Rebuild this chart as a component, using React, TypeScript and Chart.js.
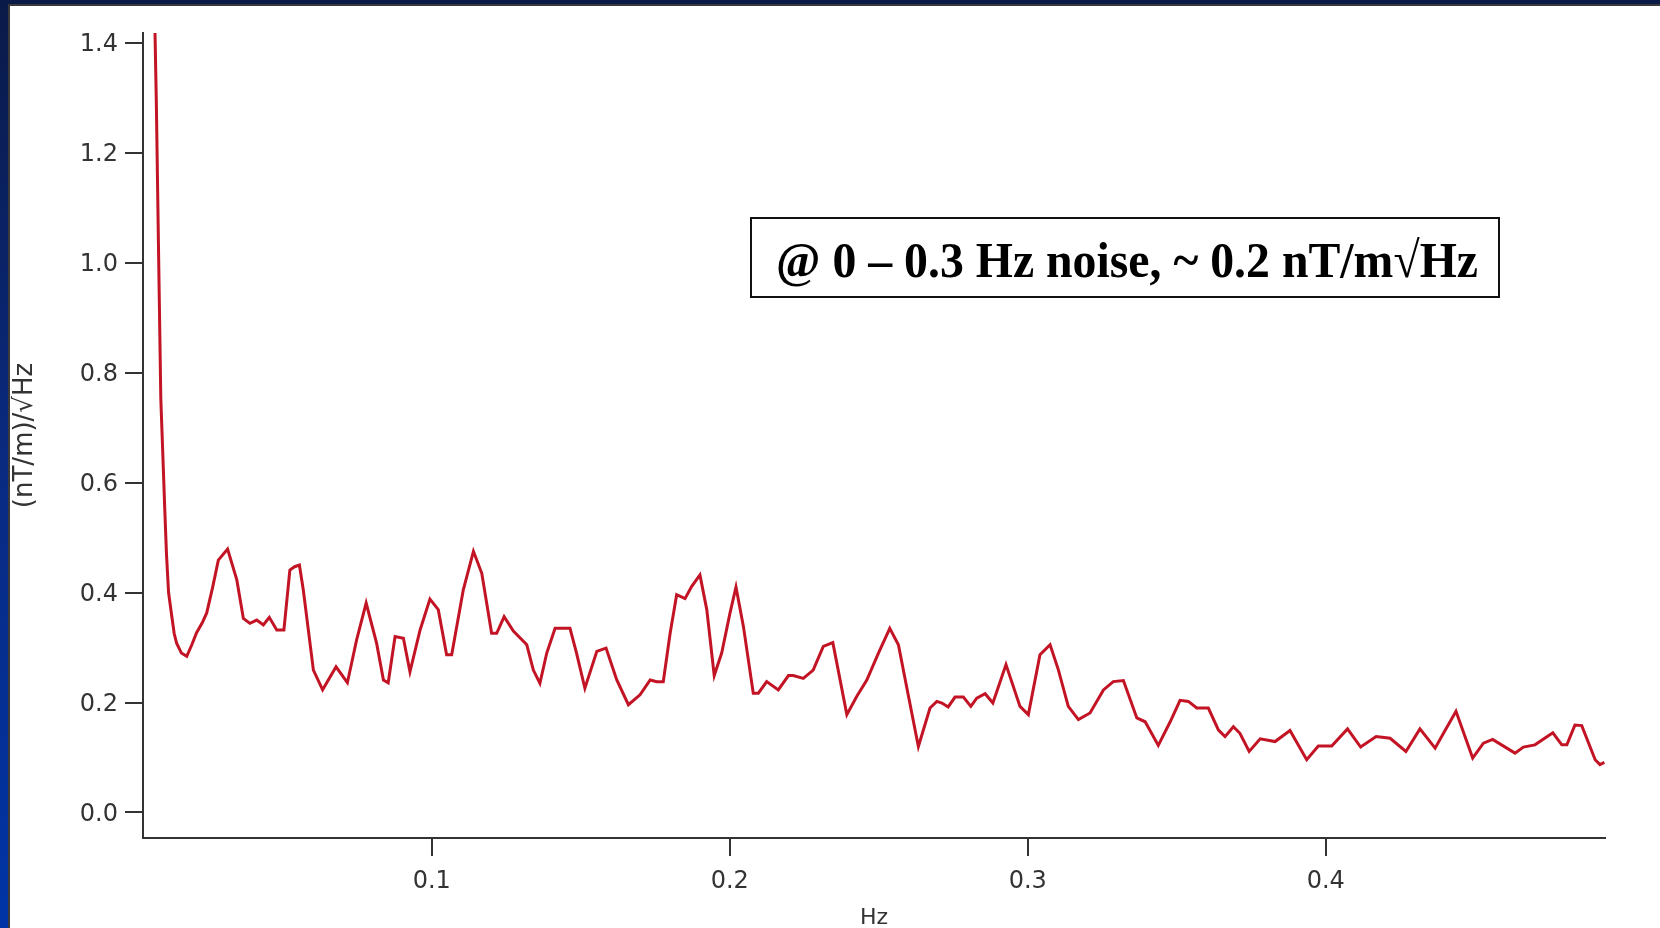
import React, { useEffect, useRef } from "react";
import { Chart, registerables } from "chart.js";

Chart.register(...registerables);

// Frequency (Hz)
const FREQ_HZ: number[] = [
  0.00715, 0.0076, 0.0083, 0.0091, 0.0099, 0.0104, 0.011, 0.0117, 0.0128, 0.0136,
  0.0144, 0.016, 0.0178, 0.0195, 0.0211, 0.023, 0.0245, 0.0265, 0.0284, 0.0315,
  0.0346, 0.0368, 0.039, 0.0413, 0.0435, 0.0455, 0.048, 0.0504, 0.0524, 0.054,
  0.0556, 0.0569, 0.0603, 0.0634, 0.0679, 0.0717, 0.0748, 0.078, 0.0815, 0.0838,
  0.0854, 0.0877, 0.0905, 0.0927, 0.0961, 0.0994, 0.1022, 0.105, 0.1067, 0.1106,
  0.114, 0.1168, 0.1201, 0.1218, 0.1243, 0.1274, 0.1319, 0.1341, 0.1363, 0.1386,
  0.1414, 0.1464, 0.1486, 0.1514, 0.1554, 0.1585, 0.1621, 0.166, 0.1699, 0.1733,
  0.1755, 0.1777, 0.18, 0.1822, 0.185, 0.1872, 0.19, 0.1923, 0.1948, 0.1973,
  0.2001, 0.2021, 0.2046, 0.2079, 0.2096, 0.2124, 0.2163, 0.2197, 0.2213, 0.2247,
  0.228, 0.2314, 0.2346, 0.2393, 0.2426, 0.246, 0.2499, 0.2537, 0.2566, 0.26,
  0.2633, 0.2672, 0.2695, 0.2712, 0.2733, 0.2756, 0.2784, 0.2809, 0.2829, 0.2857,
  0.2883, 0.2927, 0.2974, 0.3002, 0.3041, 0.3075, 0.3103, 0.3136, 0.317, 0.3209,
  0.3254, 0.3287, 0.3321, 0.3366, 0.3394, 0.3438, 0.3478, 0.3511, 0.3539, 0.3567,
  0.3606, 0.364, 0.3662, 0.369, 0.3712, 0.3743, 0.378, 0.383, 0.388, 0.3936,
  0.3975, 0.402, 0.4073, 0.4117, 0.4169, 0.4216, 0.4269, 0.4316, 0.4367, 0.4395,
  0.4437, 0.4493, 0.4529, 0.456, 0.4635, 0.4663, 0.4702, 0.4762, 0.4792, 0.4809,
  0.4836, 0.4859, 0.4904, 0.492, 0.4935,
];

// Gradient noise, (nT/m)/√Hz
const NOISE: number[] = [
  1.418, 1.29, 1.035, 0.752, 0.632, 0.555, 0.47, 0.4, 0.356, 0.325,
  0.308, 0.29, 0.284, 0.305, 0.327, 0.345, 0.363, 0.41, 0.459, 0.479,
  0.423, 0.353, 0.344, 0.35, 0.341, 0.355, 0.332, 0.332, 0.441, 0.447,
  0.45, 0.405, 0.259, 0.223, 0.265, 0.236, 0.314, 0.381, 0.308, 0.241,
  0.236, 0.32, 0.317, 0.256, 0.332, 0.388, 0.369, 0.287, 0.287, 0.405,
  0.475, 0.435, 0.326, 0.326, 0.356, 0.33, 0.305, 0.259, 0.235, 0.29,
  0.335, 0.335, 0.29, 0.226, 0.293, 0.299, 0.241, 0.196, 0.214, 0.241,
  0.238, 0.238, 0.326, 0.396, 0.389, 0.411, 0.432, 0.369, 0.249, 0.29,
  0.363, 0.41, 0.338, 0.217, 0.217, 0.238, 0.223, 0.249, 0.249, 0.244,
  0.259, 0.302, 0.309, 0.178, 0.211, 0.241, 0.29, 0.335, 0.305, 0.211,
  0.12, 0.19, 0.202, 0.199, 0.192, 0.21, 0.21, 0.193, 0.208, 0.216,
  0.199, 0.269, 0.193, 0.178, 0.287, 0.305, 0.259, 0.193, 0.169, 0.181,
  0.223, 0.238, 0.24, 0.172, 0.165, 0.122, 0.165, 0.204, 0.202, 0.19,
  0.19, 0.15, 0.138, 0.156, 0.144, 0.111, 0.134, 0.129, 0.149, 0.096,
  0.121, 0.121, 0.152, 0.119, 0.138, 0.135, 0.111, 0.152, 0.117, 0.144,
  0.184, 0.099, 0.126, 0.133, 0.108, 0.119, 0.123, 0.145, 0.123, 0.123,
  0.159, 0.158, 0.096, 0.087, 0.091,
];

const X_TICKS: number[] = [0.1, 0.2, 0.3, 0.4];
const Y_TICKS: number[] = [0.0, 0.2, 0.4, 0.6, 0.8, 1.0, 1.2, 1.4];
const X_RANGE: number[] = [0.00312, 0.4937];
const Y_RANGE: number[] = [-0.0464, 1.4177];

const X_TITLE = "Hz";
const Y_TITLE = "(nT/m)/√Hz";
const NOTE_TEXT = "@ 0 – 0.3 Hz noise, ~ 0.2 nT/m√Hz";

const W = 1660;
const H = 928;

const framePlugin = {
  id: "slideFrame",
  beforeDraw(chart: any) {
    const { ctx, width, height } = chart;
    ctx.save();
    const g = ctx.createLinearGradient(0, 0, 0, height);
    g.addColorStop(0, "#0a1a48");
    g.addColorStop(0.5, "#0a2a80");
    g.addColorStop(1, "#0034a6");
    ctx.fillStyle = g;
    ctx.fillRect(0, 0, width, height);
    ctx.fillStyle = "#3a3a3a";
    ctx.fillRect(8, 4, width - 8, height - 4);
    ctx.fillStyle = "#ffffff";
    ctx.fillRect(10, 6, width - 10, height - 6);
    ctx.restore();
  },
};

const notePlugin = {
  id: "noteBox",
  afterDraw(chart: any) {
    const { ctx } = chart;
    ctx.save();
    const bx = 751, by = 218, bw = 748, bh = 79;
    ctx.fillStyle = "#ffffff";
    ctx.fillRect(bx, by, bw, bh);
    ctx.strokeStyle = "#111111";
    ctx.lineWidth = 2;
    ctx.strokeRect(bx, by, bw, bh);
    ctx.fillStyle = "#000000";
    ctx.font = "bold 51px 'Liberation Serif', 'Times New Roman', serif";
    ctx.textAlign = "center";
    ctx.textBaseline = "alphabetic";
    ctx.fillText(NOTE_TEXT, bx + bw / 2 + 2, 277, 702);
    ctx.restore();
  },
};

export default function App() {
  const ref = useRef<HTMLCanvasElement | null>(null);

  useEffect(() => {
    if (!ref.current) return;
    const points = FREQ_HZ.map((f, i) => ({ x: f, y: NOISE[i] }));
    const tickFont = { family: "'DejaVu Sans', Verdana, sans-serif", size: 24 };
    const chart = new Chart(ref.current, {
      type: "line",
      data: {
        datasets: [
          {
            data: points,
            borderColor: "#c21424",
            borderWidth: 3,
            pointRadius: 0,
            tension: 0,
            fill: false,
          },
        ],
      },
      options: {
        animation: false,
        responsive: false,
        maintainAspectRatio: false,
        devicePixelRatio: 1,
        layout: { padding: { left: 0, right: 55, top: 33, bottom: 0 } },
        plugins: {
          legend: { display: false },
          tooltip: { enabled: false },
          title: { display: false },
        },
        scales: {
          x: {
            type: "linear",
            min: X_RANGE[0],
            max: X_RANGE[1],
            afterBuildTicks: (s: any) => {
              s.ticks = X_TICKS.map((v) => ({ value: v }));
            },
            afterFit: (s: any) => {
              s.height = 90;
            },
            grid: {
              drawOnChartArea: false,
              drawTicks: true,
              tickLength: 18,
              color: "#333333",
              lineWidth: 2,
            },
            border: { display: true, color: "#333333", width: 2 },
            ticks: {
              font: tickFont,
              color: "#333333",
              padding: 11,
              maxRotation: 0,
              autoSkip: false,
              callback: (v: any) => Number(v).toFixed(1),
            },
            title: {
              display: true,
              text: X_TITLE,
              color: "#333333",
              font: { family: "'DejaVu Sans', Verdana, sans-serif", size: 22, lineHeight: 0.9 },
              padding: { top: 0, bottom: 0 },
            },
          },
          y: {
            type: "linear",
            min: Y_RANGE[0],
            max: Y_RANGE[1],
            afterBuildTicks: (s: any) => {
              s.ticks = Y_TICKS.map((v) => ({ value: v }));
            },
            afterFit: (s: any) => {
              s.width = 143;
            },
            grid: {
              drawOnChartArea: false,
              drawTicks: true,
              tickLength: 18,
              color: "#333333",
              lineWidth: 2,
            },
            border: { display: true, color: "#333333", width: 2 },
            ticks: {
              font: tickFont,
              color: "#333333",
              padding: 7,
              labelOffset: 2,
              autoSkip: false,
              callback: (v: any) => Number(v).toFixed(1),
            },
            title: {
              display: true,
              text: Y_TITLE,
              color: "#333333",
              font: { family: "'DejaVu Sans', Verdana, sans-serif", size: 26 },
              padding: { top: 10, bottom: 0 },
            },
          },
        },
      },
      plugins: [framePlugin, notePlugin],
    });
    return () => chart.destroy();
  }, []);

  return (
    <div style={{ position: "fixed", left: 0, top: 0, width: W, height: H, overflow: "hidden" }}>
      <canvas ref={ref} width={W} height={H} style={{ display: "block", width: W, height: H }} />
    </div>
  );
}
